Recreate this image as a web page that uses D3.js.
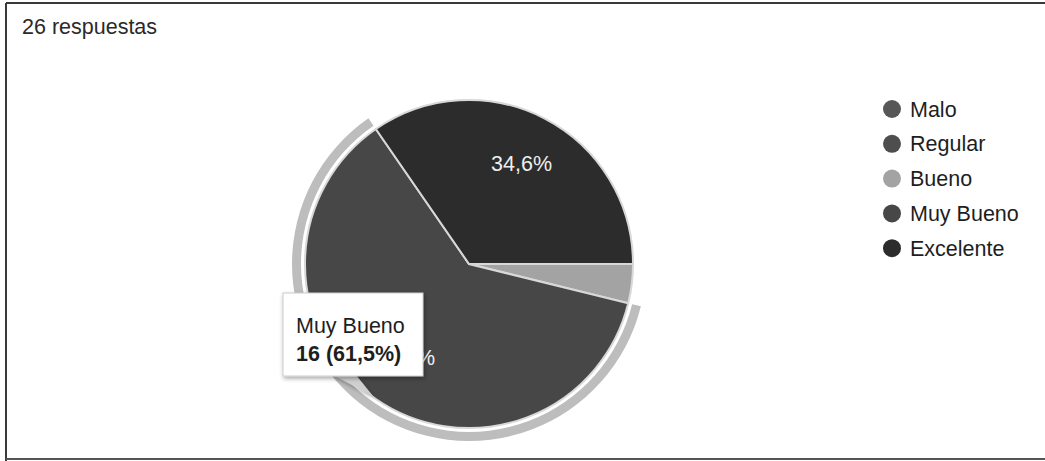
<!DOCTYPE html>
<html>
<head>
<meta charset="utf-8">
<script src="https://cdnjs.cloudflare.com/ajax/libs/d3/7.8.5/d3.min.js"></script>
<style>
  body { margin: 0; background: #fff; }
  svg { display: block; font-family: "Liberation Sans", Arial, sans-serif; }
</style>
</head>
<body>
<script>
// datos de la encuesta
var categorias = ["Malo", "Regular", "Bueno", "Muy Bueno", "Excelente"];
var respuestas = [0, 0, 1, 16, 9];
var colores = ["#575757", "#4e4e4e", "#a3a3a3", "#474747", "#2c2c2c"];
var titulo = "26 respuestas";
var resaltado = "Muy Bueno";

var W = 1045, H = 461;
var svg = d3.select("body").append("svg").attr("width", W).attr("height", H);

// marco del recorte
svg.append("line").attr("x1", 6).attr("y1", 3).attr("x2", W).attr("y2", 3)
   .attr("stroke", "#3a3a3a").attr("stroke-width", 2);
svg.append("line").attr("x1", 6).attr("y1", 3).attr("x2", 6).attr("y2", H)
   .attr("stroke", "#3a3a3a").attr("stroke-width", 2);
svg.append("line").attr("x1", 6).attr("y1", 459).attr("x2", W).attr("y2", 459)
   .attr("stroke", "#555").attr("stroke-width", 2);

svg.append("text").attr("x", 22).attr("y", 34)
   .attr("font-size", 21.5).attr("fill", "#2a2a2a").text(titulo);

var total = d3.sum(respuestas);
var datos = categorias.map(function (c, i) { return {cat: c, n: respuestas[i], color: colores[i]}; });

var cx = 469, cy = 264, r = 164;
var pie = d3.pie().sort(null).value(function (d) { return d.n; })
            .startAngle(Math.PI / 2).endAngle(Math.PI / 2 + 2 * Math.PI);
var arco = d3.arc().innerRadius(0).outerRadius(r);
var anillo = d3.arc().innerRadius(r + 4).outerRadius(r + 13);
var arcoTexto = d3.arc().innerRadius(r * 0.69).outerRadius(r * 0.69);

var g = svg.append("g").attr("transform", "translate(" + cx + "," + cy + ")");
var porciones = pie(datos).filter(function (d) { return d.data.n > 0; });

// anillo de resaltado
g.selectAll("path.anillo")
 .data(porciones.filter(function (d) { return d.data.cat == resaltado; }))
 .enter().append("path").attr("class", "anillo")
 .attr("d", anillo).attr("fill", "#bdbdbd");

g.selectAll("path.area")
 .data(porciones)
 .enter().append("path").attr("class", "area")
 .attr("d", arco)
 .attr("fill", function (d) { return d.data.color; })
 .attr("stroke", "#d8d8d8").attr("stroke-width", 2);

var fmt = function (v) { return (v * 100).toFixed(1).replace(".", ",") + "%"; };

g.selectAll("text.pct")
 .data(porciones.filter(function (d) { return d.data.n / total > 0.05; }))
 .enter().append("text").attr("class", "pct")
 .attr("transform", function (d) { return "translate(" + arcoTexto.centroid(d) + ")"; })
 .attr("text-anchor", "middle").attr("dy", "0.35em")
 .attr("font-size", 21.5).attr("fill", "#eee")
 .text(function (d) { return fmt(d.data.n / total); });

// leyenda
var ley = svg.append("g").attr("transform", "translate(892,109)");
var item = ley.selectAll("g").data(datos).enter().append("g")
              .attr("transform", function (d, i) { return "translate(0," + i * 34.8 + ")"; });
item.append("circle").attr("r", 9).attr("fill", function (d) { return d.color; });
item.append("text").attr("x", 18).attr("dy", "0.35em")
    .attr("font-size", 21.5).attr("fill", "#1e1e1e").text(function (d) { return d.cat; });

// tooltip
var sel = porciones.filter(function (d) { return d.data.cat == resaltado; })[0];
var tip = svg.append("g");
var defs = svg.append("defs");
var f = defs.append("filter").attr("id", "sombra").attr("x", "-20%").attr("y", "-20%")
            .attr("width", "150%").attr("height", "150%");
f.append("feDropShadow").attr("dx", 1).attr("dy", 2).attr("stdDeviation", 2)
 .attr("flood-color", "#000").attr("flood-opacity", 0.35);
tip.append("path")
   .attr("d", "M333,375 L356,375 L373,396 Z")
   .attr("fill", "#cfcfcf").attr("filter", "url(#sombra)");
tip.append("rect").attr("x", 283).attr("y", 293).attr("width", 140).attr("height", 83)
   .attr("fill", "#fff").attr("stroke", "#ccc").attr("filter", "url(#sombra)");
tip.append("text").attr("x", 296).attr("y", 333).attr("font-size", 21.5).attr("fill", "#1e1e1e")
   .text(sel.data.cat);
tip.append("text").attr("x", 296).attr("y", 361).attr("font-size", 21.5).attr("font-weight", "bold")
   .attr("fill", "#1e1e1e")
   .text(sel.data.n + " (" + fmt(sel.data.n / total) + ")");
</script>
</body>
</html>
